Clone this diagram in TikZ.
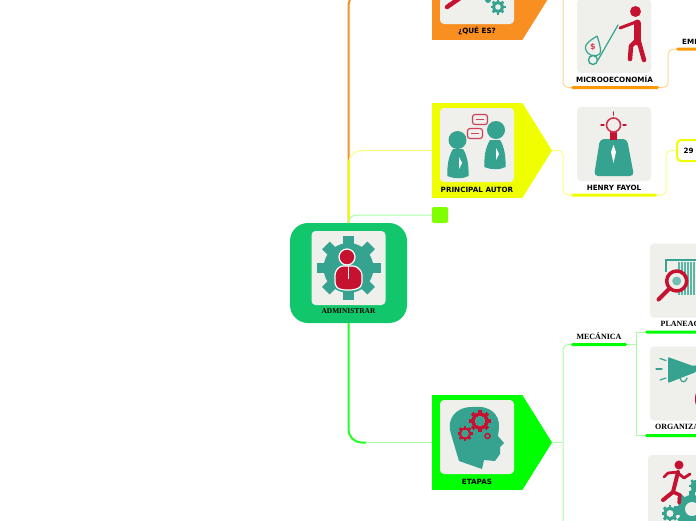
\documentclass[tikz,border=0pt]{standalone}
\usepackage{fontspec}
\setmainfont{Liberation Serif}
\setsansfont{DejaVu Sans}
\usetikzlibrary{positioning, calc}
\definecolor{rootgreen}{HTML}{12C76B}
\definecolor{panelgray}{HTML}{EFEFEB}
\definecolor{iconteal}{HTML}{35A38F}
\definecolor{iconred}{HTML}{C41230}
\definecolor{blockorange}{HTML}{F98F21}
\definecolor{barorange}{HTML}{FF9900}
\definecolor{lineorange}{HTML}{FFD596}
\definecolor{blockyellow}{HTML}{F0FF00}
\definecolor{lineyellow}{HTML}{FBFF80}
\definecolor{blockgreen}{HTML}{00FF00}
\definecolor{linegreen}{HTML}{A6FFA6}
\definecolor{stublime}{HTML}{80FF00}
\tikzset{
  panel/.style={fill=panelgray, rounded corners=4pt, minimum width=74pt, minimum height=74pt, inner sep=0pt},
  block/.style={minimum width=90pt, minimum height=95pt, inner sep=0pt},
  rootbox/.style={fill=rootgreen, rounded corners=18pt, minimum width=117pt, minimum height=100pt, inner sep=0pt},
  bar/.style={minimum height=3pt, inner sep=0pt, rounded corners=1.5pt},
  lab/.style={font=\sffamily\bfseries\fontsize{7.2}{8}\selectfont, inner sep=0pt, text=black},
  serlab/.style={font=\rmfamily\bfseries\fontsize{8}{9}\selectfont, inner sep=0pt, text=black},
  branch/.style={line width=1pt, rounded corners=5pt},
  trunk/.style={line width=2pt, rounded corners=13pt},
  redline/.style={draw=iconred, line cap=round, line join=round},
  tealline/.style={draw=iconteal, line cap=round, line join=round},
}
\newcommand{\cogwheel}[5]{
  \fill[#5] (#1,#2) circle[radius={0.78*#3}];
  \foreach \a in {0,45,...,135}{
    \fill[#5, rotate around={\a:(#1,#2)}] ({#1-0.17*#3},{#2-#3}) rectangle ({#1+0.17*#3},{#2+#3});}
  \fill[panelgray] (#1,#2) circle[radius=#4];
}
\newcommand{\bodyshape}[3]{
  \fill[iconteal] ({#1-5},#2) .. controls ({#1-10},{#2+8}) and ({#1-11},{#2+18}) .. ({#1-10.5},{#2+#3-2})
    .. controls ({#1-4},{#2+#3+1}) and ({#1+5},{#2+#3+1}) .. ({#1+10.5},{#2+#3-2})
    .. controls ({#1+11},{#2+16}) and ({#1+9},{#2+6}) .. ({#1+5},#2) -- cycle;
  \fill[white] ({#1+1},{#2+8}) -- ({#1+4},{#2+14}) -- ({#1+1},{#2+20}) -- cycle;
}
\begin{document}
\begin{tikzpicture}[x=1pt, y=-1pt]
  \useasboundingbox (0,0) rectangle (696,520);
  \clip (0,0) rectangle (696,520);
  \fill[white] (0,0) rectangle (696,520);

  \node[rootbox] (admin) at (348.5,273) {};
  \node[block, fill=blockorange] (quees) at (477,-7.5) {};
  \node[block, fill=blockyellow] (autor) at (477,150.5) {};
  \node[block, fill=blockgreen] (etapas) at (477,442.5) {};
  \coordinate (queestip) at (552,-7.5);
  \coordinate (autortip) at (552,150.5);
  \coordinate (etapastip) at (552,442.5);
  \fill[blockorange] (quees.north east) -- (queestip) -- (quees.south east) -- cycle;
  \fill[blockyellow] (autor.north east) -- (autortip) -- (autor.south east) -- cycle;
  \fill[blockgreen] (etapas.north east) -- (etapastip) -- (etapas.south east) -- cycle;
  \node[fill=stublime, rounded corners=2pt, minimum size=16pt, inner sep=0pt] (stub) at (440,215) {};

  \coordinate (yellowend) at (348.5,160);
  \coordinate (greenbend) at (366,442.5);
  \draw[trunk, blockorange] (admin.north) |- (quees.west);
  \draw[branch, lineyellow, rounded corners=13pt] (admin.north) |- (autor.west);
  \draw[line width=2pt, blockyellow] (admin.north) -- (yellowend);
  \draw[branch, linegreen, rounded corners=8pt] (admin.north) |- (stub.west);
  \draw[branch, linegreen] (greenbend) -- (etapas.west);
  \draw[trunk, blockgreen!85!white] (admin.south) |- (greenbend);

  \node[panel] (adminpanel) at (348.5,268) {};
  \node[panel] (queespanel) at (477,-13) {};
  \node[panel] (autorpanel) at (477,145) {};
  \node[panel] (etapaspanel) at (477,437) {};
  \node[panel] (micropanel) at (614,36) {};
  \node[panel] (fayolpanel) at (614,144) {};
  \node[panel] (planpanel) at (687,280.5) {};
  \node[panel] (orgpanel) at (687,383.5) {};
  \node[panel] (runpanel) at (685,492) {};

  \node[serlab, font=\rmfamily\bfseries\fontsize{7.4}{9}\selectfont] (adminlab) at (348.5,311) {ADMINISTRAR};
  \node[lab] (queeslab) at (477,30.5) {¿QUÉ ES?};
  \node[lab] (autorlab) at (477,189.5) {PRINCIPAL AUTOR};
  \node[lab] (etapaslab) at (477,481.5) {ETAPAS};
  \node[lab] (microlab) at (614.5,79.5) {MICROOECONOMÍA};
  \node[lab] (fayollab) at (614,188) {HENRY FAYOL};
  \node[lab, anchor=west] (emplab) at (682,42) {EMP};
  \node[serlab] (mecalab) at (599,336) {MECÁNICA};
  \node[serlab, anchor=west] (planlab) at (660.5,323.5) {PLANEAC};
  \node[serlab, anchor=west] (orglab) at (655,427) {ORGANIZA};

  \node[bar, fill=barorange, minimum width=88pt] (microbar) at (615,87.5) {};
  \node[bar, fill=barorange, minimum width=30pt] (empbar) at (691,49) {};
  \node[bar, fill=blockyellow, minimum width=86pt] (fayolbar) at (614,195) {};
  \node[bar, fill=blockgreen, minimum width=56pt] (mecabar) at (599,344.5) {};
  \node[bar, fill=blockgreen, minimum width=60pt] (planbar) at (675,332) {};
  \node[bar, fill=blockgreen, minimum width=60pt] (orgbar) at (675,435.5) {};
  \node[draw=blockyellow, line width=2pt, fill=white, rounded corners=4pt, minimum width=40pt, minimum height=21pt, inner sep=0pt] (diasbox) at (697,150.5) {};
  \node[lab, anchor=west] (diaslab) at (683.5,150.5) {29 d};

  \coordinate (microjoin) at (563,-7.5);
  \coordinate (etapasjoin) at (563,442.5);
  \coordinate (etapasend) at (563,530);
  \draw[branch, lineorange] (queestip) -- (microjoin) |- (microbar.west);
  \draw[branch, lineorange] (microbar.east) -- ++(9,0) |- (empbar.west);
  \draw[branch, lineyellow] (autortip) -- ++(11,0) |- (fayolbar.west);
  \draw[branch, lineyellow] (fayolbar.east) -- ++(9,0) |- (diasbox.west);
  \draw[branch, linegreen] (etapastip) -- (etapasjoin);
  \draw[branch, linegreen] (mecabar.west) -| (etapasend);
  \draw[branch, linegreen, rounded corners=0pt] (mecabar.east) -- ++(9,0) |- (planbar.west);
  \draw[branch, linegreen, rounded corners=0pt] (mecabar.east) -- ++(9,0) |- (orgbar.west);

  % gear with person
  \cogwheel{348.5}{268}{32}{0}{iconteal}
  \fill[iconred, draw=white, line width=1.2pt] (347,257) circle[radius=8];
  \fill[iconred, draw=white, line width=1.2pt, rounded corners=3pt] (340,266) -- (356,266) -- (362,272) -- (362,285)
    .. controls (356,291) and (340,291) .. (335,285) -- (335,272) -- cycle;
  \draw[white, line width=.8pt] (348.5,266) -- (348.5,279);

  % question block
  \draw[redline, line width=4.5pt] (447,7) -- (460,-2);
  \cogwheel{498}{7}{7.5}{2.8}{iconteal}
  \fill[iconteal] (488,0) circle[radius=3];

  % two people
  \fill[iconteal] (457.5,140) circle[radius=9];
  \fill[iconteal] (496,130) circle[radius=9];
  \bodyshape{458}{149}{29}
  \bodyshape{495}{140}{29}
  \draw[draw=iconred!80!white, line width=1.2pt, fill=panelgray, rounded corners=2.5pt] (472.5,114.5) rectangle (487.5,124.5);
  \draw[iconred!80!white, line width=1.2pt] (476,119.5) -- (484,119.5);
  \draw[draw=iconred!80!white, line width=1.2pt, fill=panelgray, rounded corners=2.5pt] (467.5,128.5) rectangle (482.5,138.5);
  \draw[iconred!80!white, line width=1.2pt] (471,133.5) -- (479,133.5);

  % head with gears
  \fill[iconteal] (459,461) -- (451,434) .. controls (446,420) and (455,407) .. (472,407)
    .. controls (490,405) and (500,414) .. (499,428) -- (498,436)
    -- (504,443) -- (500,447) -- (500,454) -- (495,461) -- (484,460) -- (482,469) -- cycle;
  \cogwheel{480}{421}{11}{5}{iconred}
  \fill[iconteal] (480,421) circle[radius=5];
  \cogwheel{465}{433.5}{7.5}{3.5}{iconred}
  \fill[iconteal] (465,433.5) circle[radius=3.5];
  \draw[iconred, line width=1.5pt, fill=iconteal] (487.5,436) circle[radius=2.5];

  % cart with bag
  \fill[iconred] (635.5,11.5) circle[radius=5.5];
  \draw[redline, line width=7pt] (637,23) -- (637,42);
  \draw[redline, line width=4.5pt] (635,42) -- (631,46) -- (630,59);
  \draw[redline, line width=4.5pt] (639,42) -- (644,60);
  \draw[redline, line width=3pt] (636,22) -- (620,28);
  \draw[tealline, line width=1.2pt] (618,25) -- (598,60);
  \draw[tealline, line width=1.4pt] (593,60) circle[radius=4.5];
  \draw[tealline, line width=1.2pt, rounded corners=4pt] (597,36) -- (600,45) -- (601,55) -- (590,56) -- (584,48) -- (588,42) -- (597,36);
  \node[text=iconred!80!white, font=\sffamily\bfseries\fontsize{8}{8}\selectfont, inner sep=0pt] (dollar) at (593,47) {\$};

  % bulb head
  \fill[iconteal, rounded corners=4pt] (600,139) -- (627,139) -- (634,176) -- (594,176) -- cycle;
  \fill[iconred] (610,131) rectangle (617,140);
  \draw[draw=iconred!85!white, line width=1.6pt, fill=panelgray] (613.5,125) circle[radius=7];
  \foreach \x/\y/\u/\v in {613.5/112/613.5/115, 601/125/604/125, 623/125/626/125}{
    \draw[redline, line width=1.4pt] (\x,\y) -- (\u,\v);}
  \fill[white] (613.5,145) -- (616,152) -- (613.5,163) -- (611,152) -- cycle;

  % barcode
  \fill[iconteal] (665,259) rectangle (696,261);
  \fill[iconteal] (665,259) rectangle (667,272);
  \foreach \x in {678,681,684,687,690,693}{
    \fill[iconteal!80!white] (\x,262) rectangle (\x+1.7,295);}
  \draw[redline, line width=3.5pt, fill=panelgray] (676.7,281) circle[radius=10];
  \fill[iconteal!70!white] (676.7,281) circle[radius=4.5];
  \draw[redline, line width=4pt] (669,289) -- (658.5,299.5);

  % megaphone
  \fill[iconteal, rounded corners=1pt] (668,357) -- (693,366) -- (696,365) -- (696,372) -- (668,383) -- cycle;
  \draw[tealline, line width=1.2pt] (660,358.5) -- (666,360.5);
  \draw[tealline, line width=1.2pt] (656,369) -- (662,369);
  \draw[tealline, line width=1.2pt] (660,380) -- (666,378);
  \draw[tealline, line width=1.2pt] (680,378) .. controls (681,383) and (686,383) .. (687,378);
  \fill[iconred] (698,399) ellipse[x radius=3, y radius=8];

  % runner and gears
  \cogwheel{692}{509}{18}{7}{iconteal}
  \cogwheel{670}{513.5}{8.5}{3.5}{iconteal}
  \cogwheel{697}{486}{8}{0}{iconteal}
  \fill[iconred] (679,465) circle[radius=4.5];
  \draw[redline, line width=4pt] (678,472) -- (673,492) -- (663,500);
  \draw[redline, line width=3.5pt] (673,492) -- (680,495) -- (679,503);
  \draw[redline, line width=2.8pt] (678,473) -- (684,478) -- (690,474);
  \draw[redline, line width=2.8pt] (678,472) -- (668,473) -- (664,477);
\end{tikzpicture}
\end{document}
